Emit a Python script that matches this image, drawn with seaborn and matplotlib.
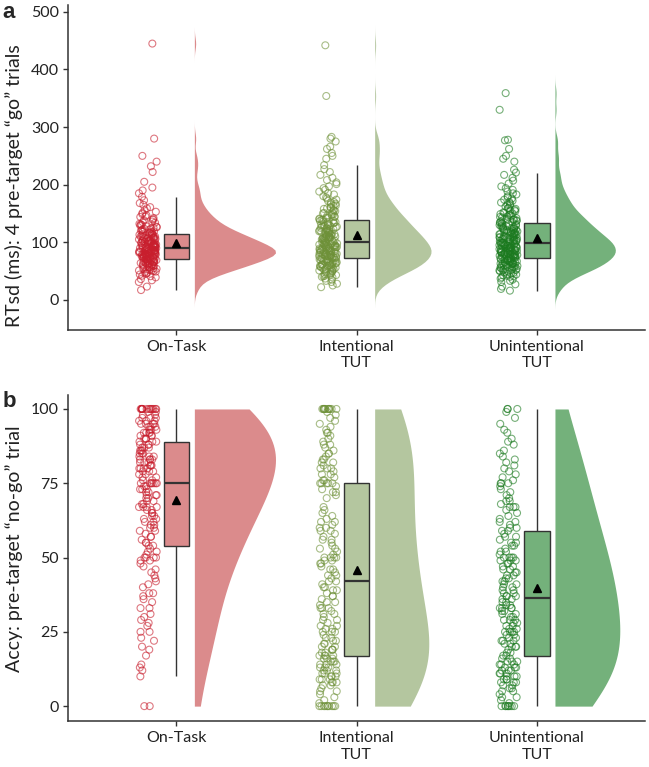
import matplotlib
matplotlib.use('Agg')
import matplotlib.pyplot as plt
import numpy as np
import pandas as pd
import seaborn as sns

groups = ['On-Task', 'Intentional TUT', 'Unintentional TUT']
tick_labels = ['On-Task', 'Intentional\nTUT', 'Unintentional\nTUT']

rtsd_on_task = [
    17, 23, 31, 34, 36, 39, 41, 42, 44, 45, 46, 47, 48, 49,
    50, 51, 51, 52, 53, 54, 54, 55, 56, 57, 57, 58, 59, 59,
    60, 60, 61, 61, 62, 62, 63, 63, 64, 64, 65, 65, 66, 66, 67, 67, 68, 68, 69, 69,
    70, 70, 71, 71, 72, 72, 72, 73, 73, 74, 74, 74, 75, 75, 76, 76, 76, 77, 77, 78, 78, 78, 79, 79, 79,
    80, 80, 80, 81, 81, 81, 82, 82, 82, 83, 83, 83, 84, 84, 84, 85, 85, 85, 86, 86, 86, 87, 87, 87,
    88, 88, 89,
    90, 90, 90, 91, 91, 91, 92, 92, 92, 93, 93, 94, 94, 94, 95, 95, 96, 96, 96, 97, 97, 98, 98, 99, 99,
    100, 100, 101, 101, 102, 102, 103, 103, 104, 104, 105, 105, 106, 106, 107, 107, 108, 108, 109, 109,
    110, 110, 111, 112, 112, 113, 114, 114, 115, 116, 116, 117, 118, 118, 119,
    120, 121, 122, 122, 123, 124, 125, 126, 127, 128, 129,
    130, 131, 132, 134, 135, 136, 138, 139, 140, 142, 144, 145, 147, 149,
    151, 153, 156, 159, 161, 165, 168, 173, 179,
    185, 190, 195, 205, 222, 232, 240, 250, 280, 445]
rtsd_intentional = [
    22, 25, 28, 31, 33, 35, 37, 39, 40, 41, 42, 43, 44, 45, 46, 47, 48, 49,
    50, 51, 51, 52, 53, 53, 54, 55, 55, 56, 57, 57, 58, 59, 59,
    60, 60, 61, 61, 62, 62, 63, 64, 64, 65, 65, 66, 67, 67, 68, 68, 69, 69,
    70, 70, 71, 71, 72, 72, 73, 73, 74, 74, 75, 75, 76, 76, 77, 77, 78, 78, 79, 79,
    80, 80, 81, 81, 82, 82, 83, 83, 84, 84, 85, 85, 85, 86, 86, 87, 87, 88, 88, 89, 89,
    90, 90, 91, 91, 92, 92, 93, 93, 94, 94, 95, 95, 96, 96, 97, 97, 98, 98, 99, 99,
    100, 100, 101, 102, 102, 103, 103, 104, 105, 105, 106, 106, 107, 108, 108, 109, 109, 109,
    110, 110, 111, 112, 112, 113, 114, 114, 115, 116, 116, 117, 118, 118, 119, 119,
    120, 121, 121, 122, 123, 124, 124, 125, 126, 127, 127, 128, 129, 129,
    130, 131, 132, 133, 134, 135, 135, 136, 137, 138, 139, 139,
    140, 141, 142, 143, 144, 145, 146, 147, 148, 149,
    150, 151, 152, 154, 155, 156, 158, 159, 160, 161, 163, 164, 166, 167, 169,
    170, 172, 174, 176, 178, 180, 183, 185, 188, 191, 194, 197, 201, 204, 208,
    212, 217, 222, 227, 234,
    245, 250, 255, 262, 266, 275, 280, 283, 354, 442]
rtsd_unintentional = [
    16, 19, 23, 27, 31, 33, 35, 37, 39, 40, 41, 42, 43, 44, 45, 46, 47, 48, 49,
    50, 51, 51, 52, 53, 53, 54, 55, 55, 56, 57, 57, 58, 59, 59,
    60, 60, 61, 61, 62, 62, 63, 63, 64, 64, 65, 65, 66, 66, 67, 67, 68, 68, 69,
    70, 70, 71, 71, 72, 72, 73, 73, 74, 74, 75, 75, 75, 76, 76, 77, 77, 78, 78, 79, 79, 79,
    80, 80, 80, 81, 81, 82, 82, 83, 83, 84, 84, 85, 85, 85, 86, 86, 87, 87, 88, 88, 89, 89, 89,
    90, 90, 91, 91, 92, 92, 93, 93, 94, 94, 95, 95, 95, 96, 96, 97, 97, 98, 98, 99, 99, 99,
    100, 100, 101, 101, 102, 102, 103, 103, 104, 104, 105, 105, 106, 106, 107, 107, 108, 108, 109, 109,
    110, 110, 111, 112, 112, 113, 114, 114, 115, 115, 116, 117, 117, 118, 118, 119, 119,
    120, 121, 121, 122, 123, 123, 124, 125, 125, 126, 127, 127, 128, 129, 129,
    130, 131, 132, 133, 134, 135, 135, 136, 137, 138, 139, 139,
    140, 141, 142, 143, 144, 145, 146, 147, 148, 149,
    150, 151, 152, 154, 155, 156, 158, 159, 160, 162, 164, 165, 167, 169,
    170, 172, 174, 176, 178, 180, 183, 185, 188, 191, 194, 197, 202, 207, 212, 217, 221, 226,
    240, 245, 250, 262, 277, 278, 330, 359]

# panel b: accuracy (%) on the pre-target no-go trial
accy_on_task = [
    0, 0, 10, 12, 13, 14, 17, 19, 20, 22, 23, 25, 25, 27, 28, 29,
    30, 31, 33, 33, 35, 36, 37, 38, 38, 40, 41, 42, 43, 44, 45, 46, 47, 48, 49, 49,
    50, 50, 50, 50, 51, 52, 52, 53, 54, 54, 55, 55, 56, 57, 57, 58, 59, 59,
    60, 60, 61, 61, 62, 62, 63, 63, 64, 64, 65, 65, 66, 66, 67, 67, 67, 67, 68, 68, 69, 69,
    70, 70, 71, 71, 71, 72, 72, 73, 73, 73, 74, 74, 75, 75, 75, 75, 75, 75, 75,
    76, 76, 77, 77, 78, 78, 79, 79, 79,
    80, 80, 80, 80, 81, 81, 81, 82, 82, 82, 83, 83, 83, 83, 84, 84, 84, 85, 85, 85,
    86, 86, 86, 87, 87, 87, 88, 88, 88, 89, 89, 89,
    90, 90, 90, 91, 91, 91, 92, 92, 92, 92, 93, 93, 93, 94, 94, 94, 95, 95, 95, 95,
    96, 96, 96, 97, 97, 97, 98, 98, 99, 99,
    100, 100, 100, 100, 100, 100, 100, 100, 100, 100, 100, 100, 100, 100]
accy_intentional = [
    0, 0, 0, 0, 0, 0, 0, 0, 0, 0,
    1, 2, 3, 4, 5, 5, 6, 7, 7, 8, 8, 8, 9, 9, 9,
    10, 10, 10, 11, 11, 11, 12, 12, 12, 13, 13, 13, 14, 14, 14, 15, 15, 15, 16, 16, 16,
    17, 17, 17, 17, 18, 18, 19, 19, 19,
    20, 20, 21, 21, 22, 22, 23, 23, 24, 25, 25, 25, 26, 26, 27, 27, 28, 29, 29,
    30, 31, 31, 32, 33, 33, 33, 34, 35, 35, 36, 37, 37, 38, 39, 39,
    40, 40, 41, 42, 42, 43, 44, 44, 45, 46, 46, 47, 48, 48, 49, 49,
    50, 50, 50, 50, 51, 52, 53, 53, 54, 55, 56, 56, 57, 58, 59, 59,
    60, 60, 61, 62, 62, 63, 64, 65, 66, 67,
    70, 71, 72, 72, 73, 74, 75, 75, 75, 75, 75, 76, 76, 77, 78, 78, 79,
    80, 80, 80, 81, 82, 82, 83, 83, 84, 85, 85, 86, 87, 88, 88, 89,
    90, 91, 92, 92, 93, 94, 95, 96, 97, 98, 99,
    100, 100, 100, 100, 100, 100, 100, 100, 100, 100, 100, 100]
accy_unintentional = [
    0, 0, 0, 0, 0, 0, 0, 0,
    1, 2, 3, 3, 4, 5, 5, 6, 6, 7, 7, 8, 8, 8, 9, 9, 9,
    10, 10, 10, 11, 11, 11, 12, 12, 12, 13, 13, 13, 14, 14, 14, 15, 15, 15, 16, 16, 17, 17, 18, 18, 19,
    20, 20, 20, 21, 21, 22, 22, 22, 23, 23, 24, 24, 25, 25, 25, 25, 26, 26, 27, 27, 28, 28, 29, 29, 29,
    30, 30, 31, 31, 32, 32, 33, 33, 33, 33, 34, 34, 35, 35, 36, 36, 37, 37, 37, 38, 38, 39, 39,
    40, 40, 41, 41, 42, 42, 43, 43, 44, 44, 45, 45, 46, 46, 47, 47, 48, 48, 49, 49, 49,
    50, 50, 50, 50, 51, 52, 52, 53, 54, 54, 55, 55, 56, 57, 57, 58, 59, 59,
    60, 60, 61, 62, 62, 63, 64, 65, 66, 67, 67, 67, 68, 69, 69,
    70, 71, 72, 73, 74, 75, 75, 75, 76, 77, 78, 79,
    80, 81, 82, 83, 84, 85, 86, 88, 89, 90, 92, 93, 95, 97, 99,
    100, 100, 100]

fill_colors = ['#DB8B8C', '#B4C69F', '#74B17B']
point_colors = ['#C81E2D', '#6E9138', '#1B7A1F']
axis_color = '#333333'

def long_table(values_by_group):
    rows = []
    for g, vals in zip(groups, values_by_group):
        rows += [(g, v) for v in vals]
    return pd.DataFrame(rows, columns=['group', 'value'])

df_a = long_table([rtsd_on_task, rtsd_intentional, rtsd_unintentional])
df_b = long_table([accy_on_task, accy_intentional, accy_unintentional])

sns.set_style('ticks')
plt.rcParams['font.family'] = ['Lato', 'DejaVu Sans']

def raincloud(ax, df, bw_adjust, cut):
    common = dict(data=df, x='group', y='value', order=groups, ax=ax)
    # half violins (equal area across groups), shifted right of the box
    n0 = len(ax.collections)
    sns.violinplot(hue='group', hue_order=groups, legend=False, palette=fill_colors,
                   inner=None, cut=cut, bw_adjust=bw_adjust, width=0.9, linewidth=0,
                   saturation=1, density_norm='area', common_norm=True, **common)
    for coll in ax.collections[n0:]:
        for path in coll.get_paths():
            v = path.vertices.copy()
            centre = np.round(v[:, 0].mean())
            v[:, 0] = np.maximum(v[:, 0], centre) + 0.1
            path.vertices = v
    sns.boxplot(hue='group', hue_order=groups, legend=False, palette=fill_colors,
                width=0.14, saturation=1, showfliers=False, showcaps=False,
                showmeans=True, linecolor=axis_color, linewidth=1,
                medianprops=dict(linewidth=1.6),
                meanprops=dict(marker='^', markerfacecolor='black',
                               markeredgecolor='black', markersize=6), **common)
    # hollow jittered points left of the box
    n0 = len(ax.collections)
    sns.stripplot(hue='group', hue_order=groups, legend=False, palette=point_colors,
                  jitter=0.05, size=5, linewidth=0.8, alpha=0.6, **common)
    for coll in ax.collections[n0:]:
        coll.set_edgecolors(coll.get_facecolors())
        coll.set_facecolors('none')
        coll.set_offsets(coll.get_offsets() - [0.158, 0])
    ax.set_xlim(-0.6, 2.6)
    ax.set_xticks(range(3))
    ax.set_xticklabels(tick_labels)
    ax.set_xlabel('')
    sns.despine(ax=ax)
    for s in ['left', 'bottom']:
        ax.spines[s].set_color(axis_color)
        ax.spines[s].set_linewidth(1.1)
    ax.tick_params(length=3.5, width=1, color=axis_color, labelcolor='#222222')
    ax.tick_params(axis='x', labelsize=11.5, pad=4)
    ax.tick_params(axis='y', labelsize=11.5, pad=3)

fig = plt.figure(figsize=(6.49, 7.67), dpi=100)
ax_a = fig.add_axes([0.105, 0.570, 0.889, 0.4235])
ax_b = fig.add_axes([0.105, 0.060, 0.889, 0.425])

raincloud(ax_a, df_a, 0.58, 3)
ax_a.set_ylim(-52, 512)
ax_a.set_yticks([0, 100, 200, 300, 400, 500])
ax_a.set_ylabel('RTsd (ms): 4 pre-target \u201cgo\u201d trials', fontsize=14, color='#222222')
ax_a.yaxis.set_label_coords(-0.078, 0.445)

raincloud(ax_b, df_b, 1.4, 0)
ax_b.set_ylim(-5, 104.7)
ax_b.set_yticks([0, 25, 50, 75, 100])
ax_b.set_ylabel('Accy: pre-target \u201cno-go\u201d trial', fontsize=14, color='#222222')
ax_b.yaxis.set_label_coords(-0.078, 0.529)

fig.text(0.004, 0.997, 'a', fontsize=16, fontweight='bold', va='top', family='Liberation Sans')
fig.text(0.004, 0.490, 'b', fontsize=16, fontweight='bold', va='top', family='Liberation Sans')

fig.savefig('out.png', dpi=100)
